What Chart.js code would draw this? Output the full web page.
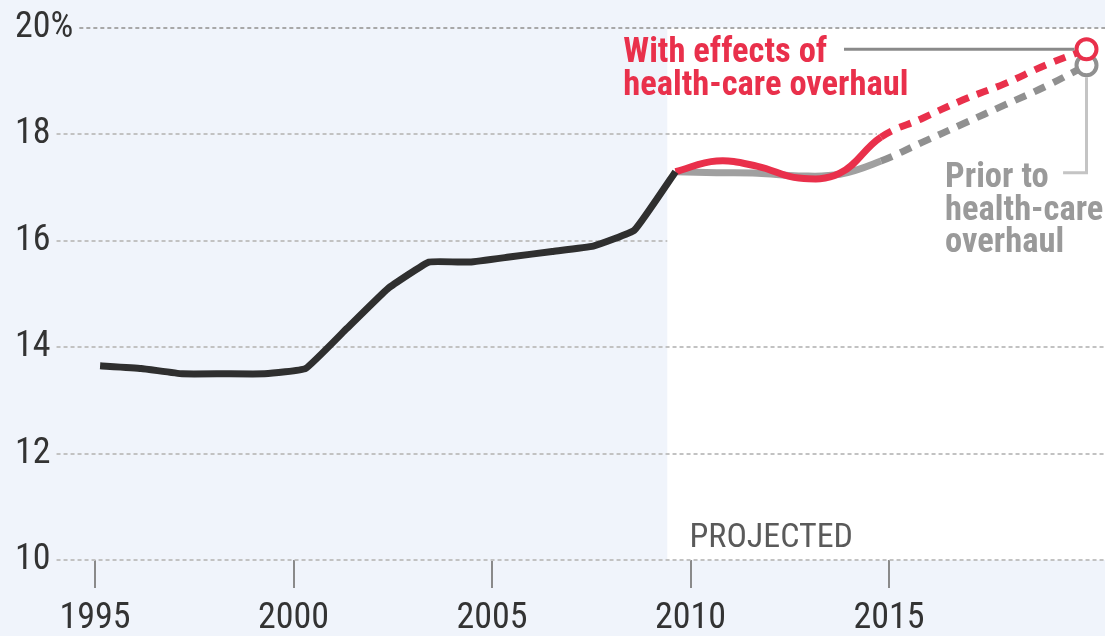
<!DOCTYPE html>
<html>
<head>
<meta charset="utf-8">
<script src="https://cdn.jsdelivr.net/npm/chart.js@4.4.1/dist/chart.umd.min.js"></script>
<style>
  html, body { margin: 0; padding: 0; background: #f0f4fb; }
  #wrap { width: 1105px; height: 636px; }
</style>
</head>
<body>
<div id="wrap"><canvas id="c" width="1105" height="636"></canvas></div>
<script>
// ---- data ----
const histYears = [1995,1996,1997,1998,1999,2000,2001,2002,2003,2004,2005,2006,2007,2008,2009];
const histShare = [13.65,13.6,13.5,13.5,13.5,13.6,14.35,15.1,15.6,15.6,15.7,15.8,15.9,16.2,17.3];
const projYears = [2009,2010,2011,2012,2013,2014,2015,2016,2017,2018,2019];
const withOverhaul = [17.3,17.5,17.4,17.18,17.27,17.95,18.3,18.65,18.95,19.3,19.6];
const priorToOverhaul = [17.3,17.28,17.27,17.22,17.25,17.5,17.85,18.2,18.55,18.9,19.3];
const xTickYears = [1995,2000,2005,2010,2015];
const yTickValues = [10,12,14,16,18,20];
const yTickLabels = ['10','12','14','16','18','20%'];
const firstProjectedYear = 2014;   // dashed from here on
const projectedFrom = 2008.8;      // start of white "projected" panel (data axis)
const gridLineEnds = {16: projectedFrom, 18: 2013.9};

// ---- style ----
const FONT = "'Roboto Condensed', 'Open Sans Condensed', 'Liberation Sans', sans-serif";
const TICK_SIZE = 36;
const BG = '#f0f4fb';
const RED = '#e9304b';
const GRAY_SOLID = '#a0a0a0';
const GRAY_DASH = '#909090';
const BLACK = '#2f2f2f';

const toPts = (xs, ys) => xs.map((x, i) => ({x, y: ys[i]}));
const dashSeg = ctx => (ctx.p0.parsed.x >= firstProjectedYear ? [12, 9] : undefined);
const lastOnly = (r) => (ctx => ctx.dataIndex === ctx.dataset.data.length - 1 ? r : 0);

const decor = {
  id: 'decor',
  beforeDraw(chart) {
    const {ctx, chartArea: a, scales} = chart;
    ctx.save();
    ctx.fillStyle = BG;
    ctx.fillRect(0, 0, chart.width, chart.height);
    const x0 = scales.x.getPixelForValue(projectedFrom);
    ctx.fillStyle = '#ffffff';
    ctx.fillRect(x0, a.top, chart.width - x0, a.bottom - a.top);
    ctx.restore();
  },
  beforeDatasetsDraw(chart) {
    const {ctx, chartArea: a, scales} = chart;
    const y = scales.y;
    ctx.save();
    ctx.font = TICK_SIZE + 'px ' + FONT;
    ctx.lineWidth = 2;
    ctx.setLineDash([4, 3]);
    yTickValues.forEach((v, i) => {
      const py = Math.round(y.getPixelForValue(v));
      const w = ctx.measureText(yTickLabels[i]).width;
      const xs = a.left + w + 6;
      const xe = gridLineEnds[v] !== undefined ? scales.x.getPixelForValue(gridLineEnds[v]) : chart.width;
      ctx.strokeStyle = v === 20 ? '#a8a8a8' : '#c2c2c2';
      ctx.beginPath();
      ctx.moveTo(xs, py);
      ctx.lineTo(xe, py);
      ctx.stroke();
    });
    ctx.restore();
    // "PROJECTED"
    ctx.save();
    ctx.font = '34px ' + FONT;
    ctx.fillStyle = '#5a5a5a';
    ctx.textBaseline = 'alphabetic';
    ctx.fillText('PROJECTED', scales.x2.getPixelForValue(2010) - 1, y.getPixelForValue(10.24));
    ctx.restore();
  },
  afterDatasetsDraw(chart) {
    const {ctx, scales} = chart;
    const x = scales.x, y = scales.y;
    const lastYear = projYears[projYears.length - 1];
    const cx = x.getPixelForValue(lastYear);
    const redY = y.getPixelForValue(withOverhaul[withOverhaul.length - 1]);
    const grayY = y.getPixelForValue(priorToOverhaul[priorToOverhaul.length - 1]);
    ctx.save();
    // red label connector
    ctx.strokeStyle = '#8a8a8a';
    ctx.lineWidth = 3;
    ctx.beginPath();
    ctx.moveTo(x.getPixelForValue(2013.1), redY);
    ctx.lineTo(cx - 12, redY);
    ctx.stroke();
    // gray label connector
    ctx.strokeStyle = '#c4c4c4';
    const elbowY = y.getPixelForValue(17.28);
    ctx.beginPath();
    ctx.moveTo(cx, grayY + 12);
    ctx.lineTo(cx, elbowY);
    ctx.lineTo(x.getPixelForValue(2018.43), elbowY);
    ctx.stroke();
    // labels
    ctx.textBaseline = 'alphabetic';
    ctx.font = 'bold 34.5px ' + FONT;
    ctx.fillStyle = RED;
    const rx = x.getPixelForValue(2007.73), ry = y.getPixelForValue(19.36);
    ctx.fillText('With effects of', rx, ry);
    ctx.fillText('health-care overhaul', rx, ry + 33);
    ctx.fillStyle = '#9a9a9a';
    const gx = x.getPixelForValue(2015.56), gy = y.getPixelForValue(17.01);
    ctx.fillText('Prior to', gx, gy);
    ctx.fillText('health-care', gx, gy + 33);
    ctx.fillText('overhaul', gx, gy + 65);
    ctx.restore();
  }
};

new Chart(document.getElementById('c'), {
  type: 'line',
  data: {
    datasets: [
      {
        label: 'Prior to health-care overhaul',
        data: toPts(projYears, priorToOverhaul),
        borderColor: GRAY_SOLID,
        borderWidth: 7,
        tension: 0.4,
        borderCapStyle: 'butt',
        segment: {
          borderDash: dashSeg,
          borderColor: c => (c.p0.parsed.x >= firstProjectedYear ? GRAY_DASH : GRAY_SOLID)
        },
        pointRadius: lastOnly(10),
        pointBorderWidth: 4,
        pointBorderColor: GRAY_DASH,
        pointBackgroundColor: '#ffffff',
        order: 3
      },
      {
        label: 'With effects of health-care overhaul',
        data: toPts(projYears, withOverhaul),
        borderColor: RED,
        borderWidth: 7,
        tension: 0.4,
        borderCapStyle: 'butt',
        segment: { borderDash: dashSeg },
        pointRadius: lastOnly(10),
        pointBorderWidth: 4,
        pointBorderColor: RED,
        pointBackgroundColor: '#ffffff',
        order: 2
      },
      {
        label: 'Actual',
        data: toPts(histYears, histShare),
        borderColor: BLACK,
        borderWidth: 7,
        tension: 0.1,
        pointRadius: 0,
        order: 1
      }
    ]
  },
  options: {
    responsive: false,
    animation: false,
    events: [],
    layout: { autoPadding: false, padding: { left: 15, top: 28, right: 0, bottom: -14 } },
    plugins: { legend: { display: false }, tooltip: { enabled: false } },
    scales: {
      x: {
        type: 'linear',
        display: false,
        min: 1992.93,
        max: 2019.45
      },
      x2: {
        type: 'linear',
        axis: 'x',
        position: 'bottom',
        min: 1992.985,
        max: 2020.44,
        afterBuildTicks: s => { s.ticks = xTickYears.map(v => ({value: v})); },
        border: { display: false },
        grid: {
          drawOnChartArea: false,
          drawTicks: true,
          tickLength: 28,
          color: '#8a8a8a',
          lineWidth: 2
        },
        ticks: {
          autoSkip: false,
          maxRotation: 0,
          padding: 4,
          color: '#333333',
          font: { family: FONT, size: TICK_SIZE, lineHeight: 1.5 },
          callback: v => String(v)
        }
      },
      y: {
        type: 'linear',
        position: 'left',
        min: 10,
        max: 20,
        afterBuildTicks: s => { s.ticks = yTickValues.map(v => ({value: v})); },
        border: { display: false },
        grid: { display: false, drawTicks: false },
        ticks: {
          mirror: true,
          padding: 0,
          color: '#333333',
          font: { family: FONT, size: TICK_SIZE },
          callback: v => yTickLabels[yTickValues.indexOf(v)]
        }
      }
    }
  },
  plugins: [decor]
});
</script>
</body>
</html>
